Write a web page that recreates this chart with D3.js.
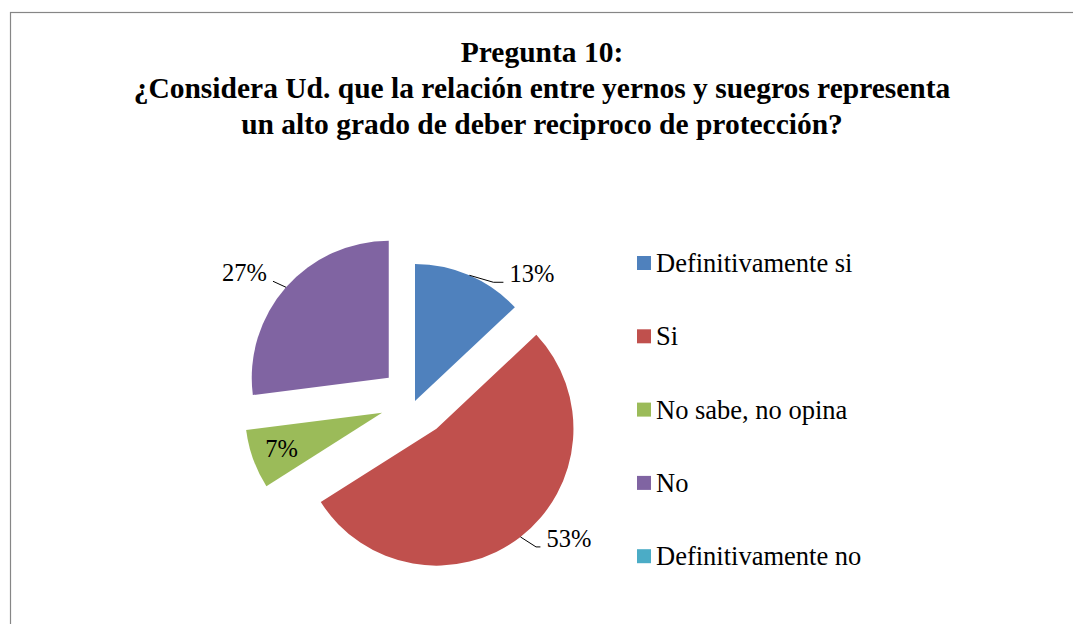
<!DOCTYPE html>
<html>
<head>
<meta charset="utf-8">
<script src="https://cdn.jsdelivr.net/npm/d3@7"></script>
<style>
  body { margin: 0; background: #fff; }
  svg { display: block; }
  text { font-family: "Liberation Serif", "Times New Roman", serif; fill: #000; }
</style>
</head>
<body>
<svg id="pieChart"></svg>
<script>
const categories = ["Definitivamente si", "Si", "No sabe, no opina", "No", "Definitivamente no"];
const values = [13, 53, 7, 27, 0];
const colors = ["#4F81BD", "#C0504D", "#9BBB59", "#8064A2", "#4BACC6"];
const titleLines = [
  "Pregunta 10:",
  "¿Considera Ud. que la relación entre yernos y suegros representa",
  "un alto grado de deber reciproco de protección?"
];

const width = 1073, height = 624;
const svg = d3.select("#pieChart").attr("width", width).attr("height", height);

// chart frame (cut off on the right and bottom like the original)
svg.append("rect")
  .attr("x", 10.5).attr("y", 12.5)
  .attr("width", 1200).attr("height", 800)
  .attr("fill", "none").attr("stroke", "#868686").attr("stroke-width", 1.2);

// Title
svg.append("g").selectAll("text")
  .data(titleLines)
  .join("text")
  .attr("x", 542)
  .attr("y", (d, i) => 62 + i * 36)
  .attr("text-anchor", "middle")
  .attr("font-size", 29.5)
  .attr("font-weight", "bold")
  .text(d => d);

// Pie geometry
const cx = 415, cy = 401, radius = 137;
const explode = [0, 35, 35, 35, 35];    // px each slice is pulled out
const labelNudge = [[40, 7], [26, 10], [0, 0], [-19, -6], [0, 0]]; // outside labels: offset from arc midpoint
const insideLabel = [false, false, true, false, false];

const pie = d3.pie().sort(null).value(d => d.value);
const arcs = pie(values.map((v, i) => ({ value: v, i })));
const arc = d3.arc().innerRadius(0).outerRadius(radius);

const slices = svg.append("g").attr("transform", `translate(${cx},${cy})`);

arcs.forEach((a, i) => {
  if (a.data.value === 0) return;
  const mid = (a.startAngle + a.endAngle) / 2;
  const ox = Math.sin(mid) * explode[i];
  const oy = -Math.cos(mid) * explode[i];
  const g = slices.append("g").attr("transform", `translate(${ox},${oy})`);

  g.append("path")
    .attr("d", arc(a))
    .attr("fill", colors[i]);

  const label = Math.round(a.data.value) + "%";
  if (insideLabel[i]) {
    const r = radius * 0.78;
    g.append("text")
      .attr("x", Math.sin(mid) * r)
      .attr("y", -Math.cos(mid) * r + 8)
      .attr("text-anchor", "middle")
      .attr("font-size", 24.5)
      .text(label);
  } else {
    const px = Math.sin(mid) * radius, py = -Math.cos(mid) * radius;
    const [nx, ny] = labelNudge[i];
    const right = nx > 0;
    const elbowX = px + nx * 0.6, ly = py + ny;
    const pts = right
      ? [[px, py], [elbowX, ly], [px + nx - 6, ly]]
      : [[px, py], [px + nx + 6, ly]];
    g.append("path")
      .attr("d", d3.line()(pts))
      .attr("fill", "none")
      .attr("stroke", "#000")
      .attr("stroke-width", 1);
    g.append("text")
      .attr("x", px + nx)
      .attr("y", ly)
      .attr("text-anchor", right ? "start" : "end")
      .attr("font-size", 24.5)
      .text(label);
  }
});

// Legend
const legend = svg.append("g").attr("transform", "translate(637,263)");
const rows = legend.selectAll("g")
  .data(categories)
  .join("g")
  .attr("transform", (d, i) => `translate(0,${i * 73.3})`);
rows.append("rect")
  .attr("x", 0).attr("y", -7)
  .attr("width", 14).attr("height", 14)
  .attr("fill", (d, i) => colors[i]);
rows.append("text")
  .attr("x", 19).attr("y", 9)
  .attr("font-size", 26.5)
  .text(d => d);
</script>
</body>
</html>
